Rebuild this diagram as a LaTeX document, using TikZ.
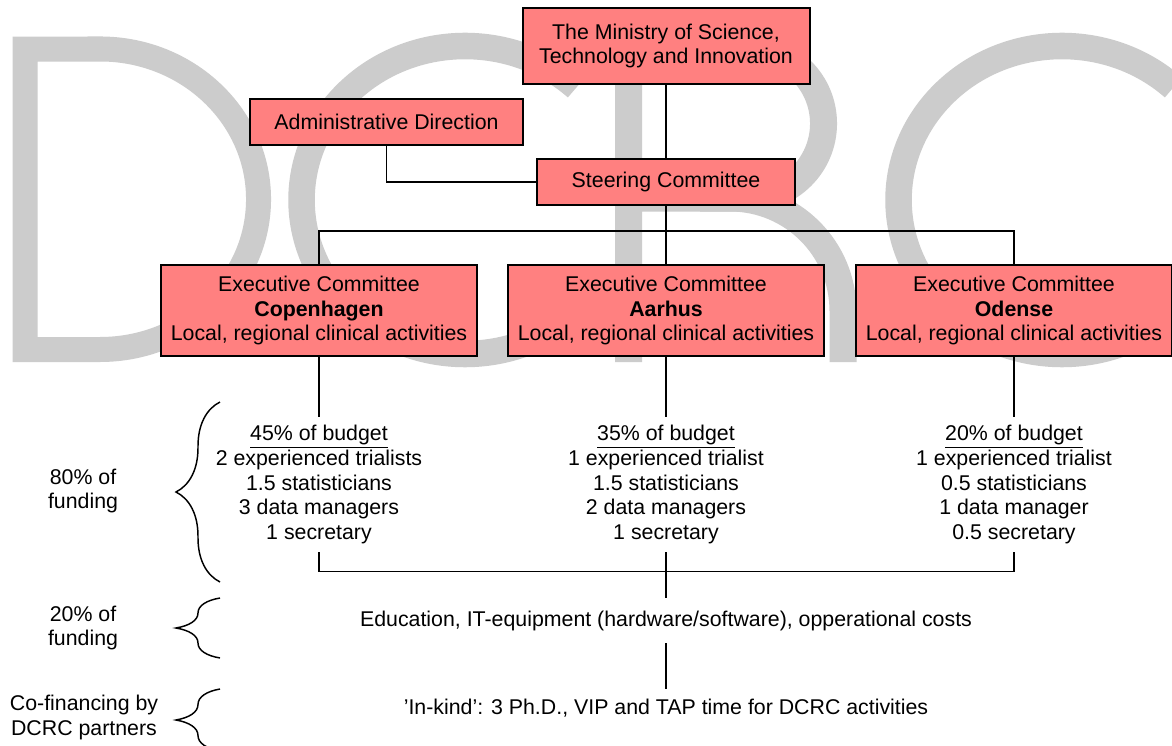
\documentclass[tikz,border=0pt]{standalone}
\usepackage{fontspec}
\setmainfont{Liberation Sans}
\usetikzlibrary{decorations.pathreplacing}
\definecolor{wmgray}{RGB}{204,204,204}
\definecolor{boxfill}{RGB}{255,128,128}
\tikzset{
  wm/.style={draw=wmgray, line width=#1, line join=miter, line cap=butt},
  orgbox/.style={draw=black, fill=boxfill, line width=1.5pt, inner sep=0pt, align=center},
  conn/.style={draw=black, line width=1.1pt},
  txt/.style={inner sep=0pt, align=center},
  fundbrace/.style={draw=black, line width=1.1pt, decorate, decoration={brace, amplitude=33pt, aspect=0.5}}
}
\begin{document}
\begin{tikzpicture}[x=0.75pt, y=-0.75pt, font=\fontsize{16}{18.4}\selectfont]
\useasboundingbox (0,0) rectangle (1172,746);
\clip (0,0) rectangle (1172,746);
\fill[white] (0,0) rectangle (1172,746);

% watermark letters DCRC
\draw[wm=18.75pt] (100,49) -- (25,49) -- (25,349.5) -- (100,349.5)
   arc[start angle=-90, end angle=90, x radius=118.9pt, y radius=112.7pt] -- cycle;
\draw[wm=19.9pt] (465,200) ++(47:122.6pt and 115.5pt)
   arc[start angle=47, end angle=313, x radius=122.6pt, y radius=115.5pt];
\draw[wm=20.25pt] (628.5,362) -- (628.5,49) -- (749,49)
   arc[start angle=90, end angle=-90, radius=55.9pt] -- (628.5,198);
\draw[wm=20.25pt] (700,198) -- (730,198)
   arc[start angle=90, end angle=0, radius=84.75pt] -- (843,362);
\draw[wm=19.9pt] (1062,200) ++(47:122.6pt and 115.5pt)
   arc[start angle=47, end angle=313, x radius=122.6pt, y radius=115.5pt];

% boxes
\node[orgbox, minimum width=215.25pt, minimum height=57pt] (min) at (666,46)
  {The Ministry of Science,\\Technology and Innovation};
\node[orgbox, minimum width=204.75pt, minimum height=34.5pt] (adm) at (386.5,122)
  {Administrative Direction};
\node[orgbox, minimum width=193.5pt, minimum height=34.5pt] (steer) at (666,182)
  {Steering Committee};
\node[orgbox, minimum width=237pt, minimum height=68.25pt] (cph) at (319,310.5)
  {Executive Committee\\\textbf{Copenhagen}\\Local, regional clinical activities};
\node[orgbox, minimum width=237pt, minimum height=68.25pt] (aar) at (666,310.5)
  {Executive Committee\\\textbf{Aarhus}\\Local, regional clinical activities};
\node[orgbox, minimum width=237pt, minimum height=68.25pt] (odn) at (1014,310.5)
  {Executive Committee\\\textbf{Odense}\\Local, regional clinical activities};

% budget blocks
\node[txt, minimum height=101.25pt] (b1) at (319,484.5)
  {\underline{45\% of budget}\\2 experienced trialists\\1.5 statisticians\\3 data managers\\1 secretary};
\node[txt, minimum height=101.25pt] (b2) at (666,484.5)
  {\underline{35\% of budget}\\1 experienced trialist\\1.5 statisticians\\2 data managers\\1 secretary};
\node[txt, minimum height=101.25pt] (b3) at (1014,484.5)
  {\underline{20\% of budget}\\1 experienced trialist\\0.5 statisticians\\1 data manager\\0.5 secretary};

\node[txt, minimum height=33.75pt] (edu) at (666,620.5)
  {Education, IT-equipment (hardware/software), opperational costs};
\node[txt, minimum height=28.5pt] (ink) at (666,708)
  {'In-kind': 3 Ph.D., VIP and TAP time for DCRC activities};

% left labels
\node[txt] (l1) at (83,491) {80\% of\\funding};
\node[txt] (l2) at (83,628) {20\% of\\funding};
\node[txt] (l3) at (84,717.5) {Co-financing by\\DCRC partners};

% braces
\coordinate (br1a) at (220,582); \coordinate (br1b) at (220,402);
\coordinate (br2a) at (220,658); \coordinate (br2b) at (220,598);
\coordinate (br3a) at (220,751); \coordinate (br3b) at (220,689);
\draw[fundbrace] (br1a) -- (br1b);
\draw[fundbrace] (br2a) -- (br2b);
\draw[fundbrace] (br3a) -- (br3b);

% connectors
\draw[conn] (min.south) -- (steer.north);
\draw[conn] (adm.south) |- (steer.west);
\draw[conn] (steer.south) -- (aar.north);
\draw[conn] (cph.north) -- ++(0,-33) -| (odn.north);
\draw[conn] (cph.south) -- (b1.north);
\draw[conn] (aar.south) -- (b2.north);
\draw[conn] (odn.south) -- (b3.north);
\draw[conn] (b1.south) -- ++(0,19) -| (b3.south);
\draw[conn] (b2.south) -- (edu.north);
\draw[conn] (edu.south) -- (ink.north);
\end{tikzpicture}
\end{document}
